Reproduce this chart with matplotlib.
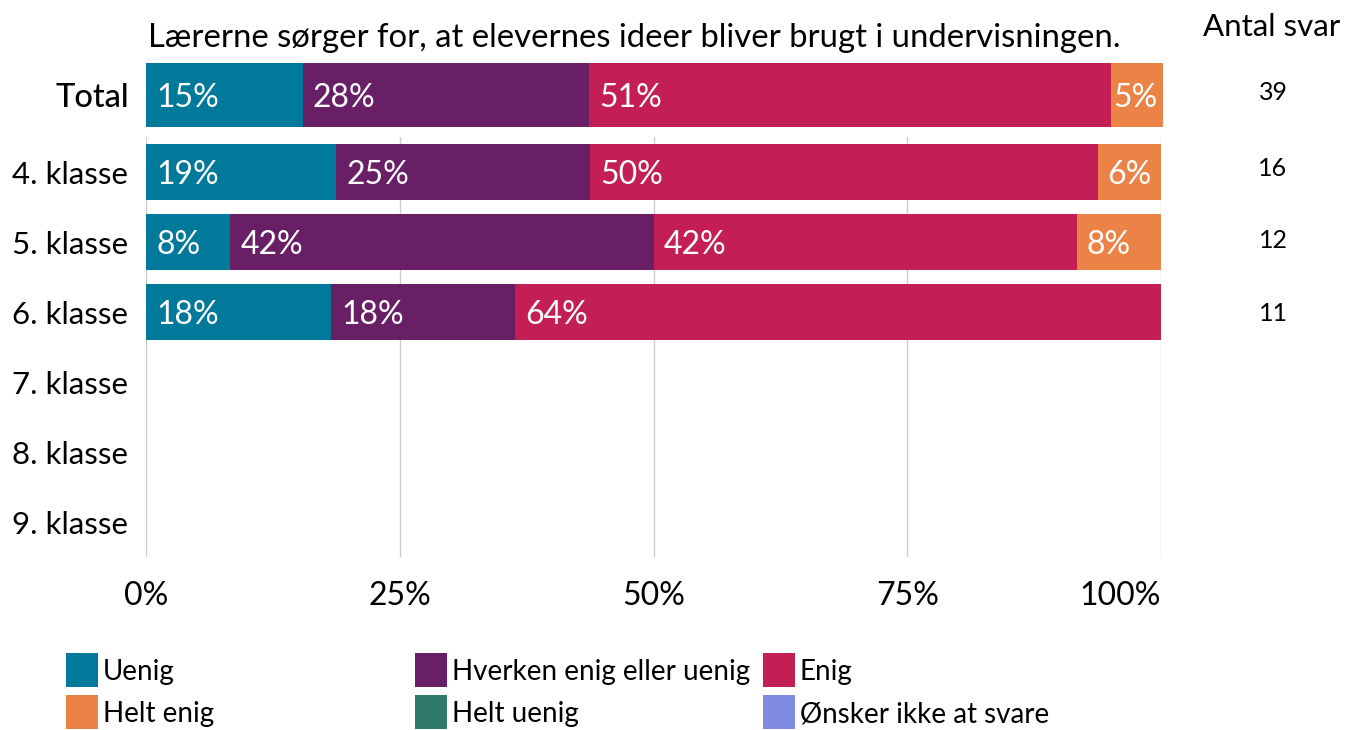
import matplotlib
matplotlib.use('Agg')
import matplotlib.pyplot as plt
from matplotlib.patches import Rectangle

plt.rcParams['font.family'] = ['Lato', 'DejaVu Sans']

title = 'Lærerne sørger for, at elevernes ideer bliver brugt i undervisningen.'
categories = ['Uenig', 'Hverken enig eller uenig', 'Enig',
              'Helt enig', 'Helt uenig', 'Ønsker ikke at svare']
colors = ['#00799A', '#681F66', '#C41F55', '#EB8347', '#2E786C', '#7F8BE0']

# total row
total_values = [15.4, 28.2, 51.3, 5.1, 0, 0]
total_n = 39

# per class rows
classes = ['4. klasse', '5. klasse', '6. klasse', '7. klasse', '8. klasse', '9. klasse']
class_values = [
    [18.75, 25.0, 50.0, 6.25, 0, 0],
    [8.3, 41.7, 41.7, 8.3, 0, 0],
    [18.2, 18.2, 63.6, 0, 0, 0],
    [0, 0, 0, 0, 0, 0],
    [0, 0, 0, 0, 0, 0],
    [0, 0, 0, 0, 0, 0],
]
class_n = [16, 12, 11, None, None, None]

W, H = 1347, 730
fig = plt.figure(figsize=(W / 100, H / 100), dpi=100)


def draw_row(ax, y, vals, height):
    left = 0
    for v, c in zip(vals, colors):
        if v <= 0:
            continue
        ax.barh(y, v, left=left, height=height, color=c, linewidth=0)
        # narrow segments get their label pushed to the left edge
        off = 1.0 if v > 6 else 0.2
        ax.text(left + off, y, f'{round(v):d}%', color='white', fontsize=23,
                ha='left', va='center_baseline')
        left += v


# Total axes
axt = fig.add_axes([146 / W, 1 - 127 / H, 1017 / W, 64 / H])
draw_row(axt, 0, total_values, 1.0)
axt.set_xlim(0, 100)
axt.set_ylim(-0.5, 0.5)
axt.set_yticks([0])
axt.set_yticklabels(['Total'], fontsize=23.5, fontweight='medium')
axt.tick_params(axis='y', length=0, pad=12)
axt.set_xticks([])
for s in axt.spines.values():
    s.set_visible(False)

# main axes
ax = fig.add_axes([146 / W, 1 - 557 / H, 1015 / W, 420 / H])
for i, vals in enumerate(class_values):
    draw_row(ax, i, vals, 0.8)
ax.set_xlim(0, 100)
ax.set_ylim(len(classes) - 0.5, -0.5)
ax.set_yticks(range(len(classes)))
ax.set_yticklabels(classes, fontsize=22.5)
ax.set_xticks([0, 25, 50, 75, 100])
ax.set_xticklabels(['0%', '25%', '50%', '75%', '100%'], fontsize=23)
ax.get_xticklabels()[-1].set_ha('right')
ax.tick_params(axis='both', length=0)
ax.tick_params(axis='y', pad=13)
ax.tick_params(axis='x', pad=17)
ax.grid(axis='x', color='#CCCCCC', linewidth=1)
ax.set_axisbelow(True)
for s in ax.spines.values():
    s.set_visible(False)

# title and counts
fig.text(148 / W, 1 - 38 / H, title, fontsize=23.7, ha='left', va='center')
fig.text(1272 / W, 1 - 27 / H, 'Antal svar', fontsize=22.5, ha='center', va='center')
count_y = [168, 240, 313]
fig.text(1273 / W, 1 - 93 / H, str(total_n), fontsize=18, ha='center', va='center')
for yy, n in zip(count_y, class_n):
    fig.text(1273 / W, 1 - yy / H, str(n), fontsize=18, ha='center', va='center')

# legend, drawn by hand: 3 columns, 2 rows
col_x = [66, 415, 763]
row_y = [653, 695]
for k, (lab, c) in enumerate(zip(categories, colors)):
    r, cidx = divmod(k, 3)
    x0 = col_x[cidx]
    y0 = row_y[r]
    fig.add_artist(Rectangle((x0 / W, 1 - (y0 + 34) / H), 32 / W, 34 / H,
                             transform=fig.transFigure, color=c, linewidth=0))
    fig.text((x0 + 37) / W, 1 - (y0 + 19) / H, lab, fontsize=20,
             ha='left', va='center')

fig.savefig('out.png', dpi=100)
